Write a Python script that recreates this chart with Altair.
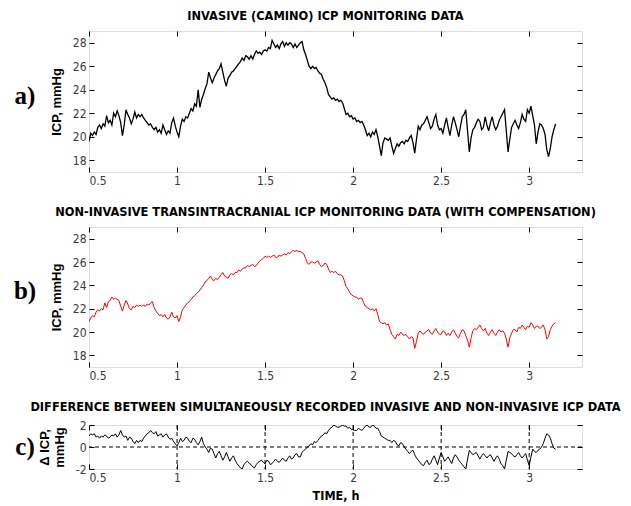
import altair as alt
import pandas as pd

# ---------------- data ----------------
T0 = 0.50
DT = 0.01

icp_invasive = [
    19.6, 20.3, 20.1, 20.4, 20.2, 20.8, 21.0, 20.7, 21.1, 20.9,
    21.8, 21.2, 21.4, 21.0, 22.0, 21.7, 22.2, 21.8, 21.2, 20.1,
    21.0, 22.3, 21.9, 21.6, 21.1, 21.5, 22.1, 21.6, 21.9, 21.7,
    21.9, 21.6, 21.4, 21.2, 21.0, 21.1, 20.8, 20.6, 20.8, 20.4,
    20.6, 20.3, 21.0, 20.6, 20.2, 20.5, 20.3, 21.2, 21.6, 20.9,
    20.4, 20.0, 20.9, 21.5, 21.3, 21.7, 21.6, 22.0, 22.4, 22.2,
    22.8, 22.6, 24.0, 22.5, 23.2, 23.6, 24.1, 24.5, 25.5, 25.0,
    24.6, 25.0, 25.3, 25.6, 25.8, 26.2, 25.5, 24.8, 24.3, 25.0,
    25.2, 25.5, 25.6, 25.8, 26.0, 26.2, 26.4, 26.7, 26.5, 26.9,
    26.8, 26.6, 26.9, 26.6, 27.0, 27.3, 27.1, 27.2, 27.0, 27.3,
    27.4, 27.3, 27.6, 27.5, 28.2, 27.9, 27.6, 27.8, 27.5, 27.9,
    28.1, 27.7, 28.0, 27.8, 28.0, 27.9, 27.6, 27.9, 27.6, 27.8,
    28.0, 28.1, 27.4, 27.0, 26.5, 26.0, 25.8, 26.0, 25.8, 25.9,
    25.6, 25.4, 25.3, 24.9, 24.6, 24.2, 23.6, 23.4, 23.2, 23.3,
    23.1, 23.2, 23.0, 23.1, 22.9, 22.4, 21.9, 22.0, 21.7, 21.8,
    21.5, 21.6, 21.3, 21.4, 21.2, 21.3, 21.0, 20.6, 20.1, 20.3,
    20.0, 20.4, 20.2, 20.6, 20.0, 19.2, 18.4, 19.5, 19.9, 19.8,
    19.7, 19.9, 19.2, 18.6, 19.0, 19.4, 19.2, 19.5, 19.6, 19.4,
    19.7, 19.6, 19.9, 20.1, 19.5, 18.6, 19.8, 20.9, 20.6, 21.0,
    21.1, 21.4, 21.7, 21.2, 20.7, 20.9, 21.5, 21.9, 21.0, 20.6,
    20.7, 20.3, 21.0, 21.6, 20.8, 20.1, 21.0, 21.7, 21.2, 20.6,
    20.0, 20.9, 21.7, 21.9, 22.3, 20.5, 18.7, 19.9, 20.6, 20.8,
    21.2, 21.5, 21.3, 20.6, 20.8, 21.7, 21.0, 20.5, 21.2, 21.7,
    21.0, 20.6, 20.9, 21.4, 21.7, 22.0, 22.3, 20.5, 18.7, 19.8,
    20.8, 21.1, 21.4, 21.0, 20.7, 21.2, 21.9, 21.5, 21.3, 22.3,
    22.0, 22.6, 21.8, 21.0, 19.4, 20.4, 21.1, 21.0, 20.7, 20.2,
    18.9, 18.3, 19.0, 20.0, 20.6, 21.1,
]

icp_noninvasive = [
    20.9, 21.2, 21.4, 21.3, 21.7, 21.9, 21.8, 22.0, 21.9, 22.5,
    22.1, 22.6, 22.7, 23.0, 22.8, 22.9, 22.8, 22.7, 22.2, 21.8,
    22.3, 22.7, 22.4, 22.0, 21.9, 22.2, 22.1, 22.3, 22.2, 22.3,
    22.2, 22.3, 22.2, 22.4, 22.3, 22.5, 22.6, 22.1, 21.8, 21.6,
    21.4, 21.5, 21.3, 21.5, 21.2, 21.1, 21.3, 21.7, 21.3, 21.2,
    21.4, 20.9, 21.3, 21.9, 22.1, 22.3, 22.5, 22.6, 22.8, 23.0,
    23.1, 23.3, 23.4, 23.6, 23.8, 24.0, 24.3, 24.4, 24.6, 24.8,
    24.5, 24.4, 24.6, 24.5, 24.7, 24.9, 25.1, 24.8, 24.7, 24.6,
    24.9, 25.0, 24.9, 25.1, 25.1, 25.3, 25.2, 25.4, 25.5, 25.5,
    25.7, 25.6, 25.7, 25.8, 25.6, 25.7, 25.9, 26.1, 26.2, 26.3,
    26.5, 26.4, 26.5, 26.4, 26.5, 26.6, 26.4, 26.4, 26.6, 26.5,
    26.6, 26.7, 26.6, 26.8, 26.7, 26.9, 27.0, 26.9, 27.0, 26.9,
    26.9, 26.8, 26.7, 26.3, 25.9, 25.8, 26.0, 26.0, 25.9, 26.0,
    26.1, 25.8, 25.6, 25.7, 25.9, 25.8, 25.4, 25.1, 25.2, 25.1,
    25.2, 25.0, 24.9, 24.9, 24.8, 24.4, 23.9, 23.7, 23.4, 23.2,
    23.1, 23.0, 23.0, 22.8, 22.9, 22.9, 22.5, 22.2, 22.1, 22.0,
    21.9, 22.0, 21.8, 22.0, 21.5, 20.9, 20.8, 20.7, 20.8, 20.6,
    20.7, 20.2, 19.8, 19.6, 19.4, 19.8, 19.7, 20.0, 19.8, 19.7,
    19.8, 19.6, 19.4, 19.6, 19.5, 18.6, 19.2, 19.9, 20.1, 19.9,
    19.8, 20.0, 20.1, 20.2, 19.9, 19.8, 20.1, 20.3, 20.0, 19.8,
    19.8, 20.1, 20.0, 19.7, 19.9, 19.7, 20.0, 20.2, 19.9, 19.6,
    19.5, 19.9, 20.2, 20.1, 19.7, 19.3, 18.7, 19.5, 20.1, 20.3,
    20.2, 20.4, 20.6, 20.3, 20.1, 20.3, 19.9, 19.7, 20.0, 20.2,
    19.9, 19.7, 20.0, 20.2, 20.0, 20.1, 19.9, 19.4, 18.7, 19.5,
    19.9, 20.2, 20.2, 20.0, 20.4, 20.3, 20.6, 20.4, 20.2, 20.5,
    20.4, 20.8, 20.6, 20.3, 20.5, 20.5, 20.3, 20.4, 20.6, 20.2,
    19.4, 19.6, 20.2, 20.5, 20.7, 20.8,
]

icp_difference = [
    1.0, 1.2, 1.1, 1.2, 0.9, 1.0, 0.8, 1.0, 0.9, 1.1,
    1.0, 0.8, 0.9, 1.1, 1.0, 1.2, 0.9, 1.1, 1.5, 1.1,
    0.9, 1.0, 0.6, 0.9, 0.8, 0.5, 0.3, 0.6, 0.4, 0.6,
    0.5, 0.8, 1.0, 1.2, 1.3, 1.5, 1.3, 1.2, 1.4, 1.0,
    1.1, 1.2, 0.9, 1.1, 1.2, 0.9, 0.7, 0.8, 0.5, 0.3,
    0.1, 0.4, 0.8, 0.5, 0.6, 0.9, 0.8, 0.5, 0.4, 0.8,
    0.7, 0.4, 0.2, 0.5, 0.9, 0.3, 0.0, -0.2, -0.5, -0.1,
    -0.2, -0.6, -1.0, -0.6, -0.4, -0.8, -1.2, -0.9, -0.5, -0.9,
    -1.3, -1.0, -0.8, -1.2, -1.5, -1.7, -1.9, -2.0, -1.6, -1.4,
    -1.3, -1.5, -1.6, -1.8, -1.9, -1.6, -1.4, -1.3, -1.2, -1.4,
    -1.5, -1.2, -1.3, -1.6, -1.5, -1.3, -1.1, -1.3, -1.4, -1.2,
    -1.0, -1.2, -1.3, -1.0, -0.8, -1.1, -1.0, -0.7, -0.6, -0.9,
    -0.9, -0.5, -0.3, -0.2, 0.0, 0.1, 0.3, 0.2, 0.5, 0.4,
    0.6, 0.8, 1.0, 1.1, 1.3, 1.2, 1.5, 1.7, 1.8, 2.0,
    1.9, 1.8, 1.8, 1.9, 2.0, 1.9, 1.9, 1.7, 1.8, 1.6,
    1.6, 1.5, 1.5, 1.7, 1.6, 1.5, 1.7, 1.9, 2.0, 1.8,
    1.8, 2.0, 1.9, 1.7, 1.7, 1.4, 1.0, 0.9, 0.8, 0.7,
    0.6, 0.6, 0.4, 0.6, 0.5, 0.2, 0.1, 0.4, 0.3, 0.0,
    -0.2, -0.4, -0.6, -0.4, -0.3, -0.7, -1.0, -1.2, -1.4, -1.6,
    -1.7, -1.4, -1.2, -1.6, -1.5, -1.1, -0.8, -1.2, -1.6, -1.0,
    -0.5, -0.9, -1.3, -1.1, -0.9, -1.2, -1.5, -1.0, -0.7, -0.9,
    -1.2, -1.4, -1.6, -1.8, -2.0, -1.1, -0.3, -0.5, -0.7, -0.6,
    -0.5, -0.8, -1.1, -0.8, -0.6, -0.8, -1.0, -0.8, -0.7, -1.0,
    -1.3, -1.0, -0.8, -1.1, -1.5, -1.7, -2.0, -1.2, -0.4, -0.5,
    -0.6, -0.8, -0.9, -0.7, -0.5, -0.8, -1.0, -0.8, -0.6, -1.2,
    -1.7, -0.9, -0.2, -0.4, -0.5, -0.3, -0.2, 0.0, 0.3, 0.8,
    1.2, 1.1, 0.8, 0.3, -0.1, -0.2,
]

X_DOMAIN = [0.5, 3.3]
X_TICKS = [0.5, 1, 1.5, 2, 2.5, 3]
ICP_DOMAIN = [17, 29]
ICP_TICKS = [18, 20, 22, 24, 26, 28]
D_DOMAIN = [-2, 2]
D_TICKS = [-2, 0, 2]
D_GRID_X = [1, 1.5, 2, 2.5, 3]
D_GRID_Y = [0]

TITLE_A = "INVASIVE (CAMINO) ICP MONITORING DATA"
TITLE_B = "NON-INVASIVE TRANSINTRACRANIAL ICP MONITORING DATA (WITH COMPENSATION)"
TITLE_C = "DIFFERENCE BETWEEN SIMULTANEOUSLY RECORDED INVASIVE AND NON-INVASIVE ICP DATA"

# ---------------- styling ----------------
NARROW = "Liberation Sans Narrow, DejaVu Sans Condensed, Arial Narrow, Liberation Sans, sans-serif"
SANS = "Liberation Sans, Arial, sans-serif"
SERIF = "Liberation Serif, Times New Roman, serif"
W = 493
TICK = 5


def frame(vals):
    return pd.DataFrame({"t": [round(T0 + DT * i, 2) for i in range(len(vals))], "v": vals})


def panel(vals, color, ydom, yticks, title, ytitle, label, label_dy, height,
          xtitle=None, grid=False, lw=1.1, title_offset=8):
    df = frame(vals)
    xs = alt.Scale(domain=X_DOMAIN, nice=False, zero=False)
    ys = alt.Scale(domain=ydom, nice=False, zero=False)
    common = dict(offset=-TICK, tickSize=TICK, domain=False, grid=False,
                  tickColor="black", labelFont=NARROW, labelFontSize=12, labelColor="#3a3a3a",
                  labelExpr="datum.value + ''")
    xaxis = alt.Axis(orient="bottom", values=X_TICKS, labelPadding=3,
                     title=xtitle, titleFont=NARROW, titleFontSize=12.5, titleFontWeight="bold",
                     titleColor="black", titlePadding=6, **common)
    yaxis = alt.Axis(orient="left", values=yticks, labelPadding=3,
                     title=ytitle, titleFont=SANS, titleFontSize=13, titleFontWeight="bold",
                     titleColor="black", titlePadding=9, **common)
    line = alt.Chart(df).mark_line(color=color, strokeWidth=lw, clip=True).encode(
        x=alt.X("t:Q", scale=xs, axis=xaxis),
        y=alt.Y("v:Q", scale=ys, axis=yaxis),
    )
    top_right = alt.Chart(df).mark_line(strokeOpacity=0).encode(
        x=alt.X("t:Q", scale=xs, axis=alt.Axis(orient="top", values=X_TICKS, labels=False,
                                               offset=-TICK, tickSize=TICK, domain=False,
                                               tickColor="black", title=None)),
        y=alt.Y("v:Q", scale=ys, axis=alt.Axis(orient="right", values=yticks, labels=False,
                                               offset=-TICK, tickSize=TICK, domain=False,
                                               tickColor="black", title=None)),
    )
    lab = alt.Chart(pd.DataFrame({"lab": [label]})).mark_text(
        font=SERIF, fontSize=25, fontWeight="bold", align="center", baseline="middle", color="black"
    ).encode(x=alt.value(-64), y=alt.value(height / 2 + label_dy), text="lab:N")
    layers = []
    if grid:
        gx = alt.Chart(pd.DataFrame({"t": D_GRID_X})).mark_rule(
            color="black", strokeWidth=1, strokeDash=[4, 3]).encode(
            x=alt.X("t:Q", scale=xs, axis=None))
        gy = alt.Chart(pd.DataFrame({"v": D_GRID_Y})).mark_rule(
            color="black", strokeWidth=1, strokeDash=[4, 3]).encode(
            y=alt.Y("v:Q", scale=ys, axis=None))
        layers += [gx, gy]
    layers += [line, top_right, lab]
    ch = alt.layer(*layers).resolve_axis(x="independent", y="independent").properties(
        width=W, height=height,
        title=alt.TitleParams(title, font=NARROW, fontSize=12.7, fontWeight="bold", color="black",
                              anchor="middle", offset=title_offset, dx=-10),
    )
    return ch


pa = panel(icp_invasive, "black", ICP_DOMAIN, ICP_TICKS, TITLE_A, "ICP, mmHg", "a)", -6, 141, lw=1.3)
pb = panel(icp_noninvasive, "#ff0000", ICP_DOMAIN, ICP_TICKS, TITLE_B, "ICP, mmHg", "b)", -6, 140, lw=1.0)
pc = panel(icp_difference, "black", D_DOMAIN, D_TICKS, TITLE_C, ["\u0394 ICP,", "mmHg"], "c)", 0, 44,
           xtitle="TIME, h", grid=True, lw=1.0, title_offset=5)

chart = alt.vconcat(alt.vconcat(pa, pb, spacing=18), pc, spacing=18).properties(
    padding={"left": 5, "top": 1, "right": 0, "bottom": 0}
).configure_view(
    stroke="black", strokeWidth=1
).configure(background="white")

chart.save("out.html", embed_options={"renderer": "svg", "actions": False})
